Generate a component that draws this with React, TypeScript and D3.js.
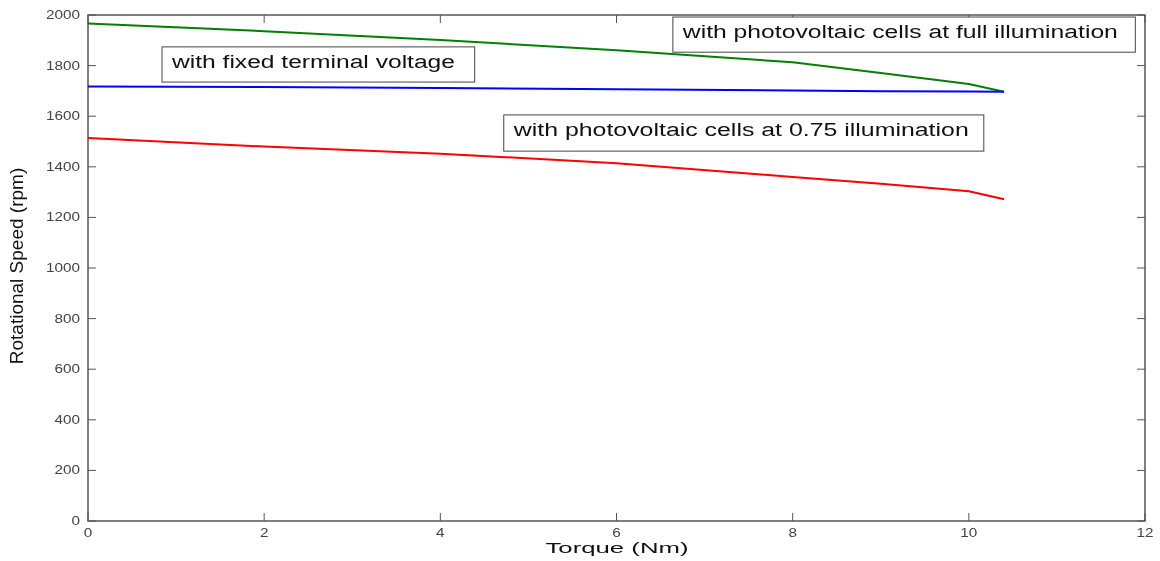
import { useEffect, useRef } from "react";
import * as d3 from "d3";

const torque = [0, 2, 4, 6, 8, 9, 10, 10.4];
const fullIllum = [1966, 1936, 1901, 1861, 1813, 1771, 1727, 1697];
const fixedVolt = [1717, 1715, 1711, 1707, 1702, 1699, 1698, 1697];
const partIllum = [1514, 1480, 1452, 1414, 1360, 1333, 1303, 1272];

const xTicks = [0, 2, 4, 6, 8, 10, 12];
const yTicks = [0, 200, 400, 600, 800, 1000, 1200, 1400, 1600, 1800, 2000];

const seriesColors = ["#008000", "#0000ff", "#ff0000"];

// annotation boxes: [left torque, top rpm, right torque, bottom rpm, label, text length]
const notes: [number, number, number, number, string, number][] = [
  [6.64, 1992, 11.89, 1853, "with photovoltaic cells at full illumination", 435],
  [0.84, 1874, 4.39, 1735, "with fixed terminal voltage", 283],
  [4.72, 1605, 10.17, 1462, "with photovoltaic cells at 0.75 illumination", 455],
];

export default function App() {
  const svgRef = useRef<SVGSVGElement>(null);

  useEffect(() => {
    if (!svgRef.current) return;
    const svg = d3.select(svgRef.current);
    svg.selectAll("*").remove();

    const margin = { top: 15, right: 15, bottom: 40, left: 88 };
    const width = 1160;
    const height = 561;
    const w = width - margin.left - margin.right;
    const h = height - margin.top - margin.bottom;

    const x = d3.scaleLinear().domain([0, 12]).range([0, w]);
    const y = d3.scaleLinear().domain([0, 2000]).range([h, 0]);

    const g = svg
      .append("g")
      .attr("transform", `translate(${margin.left},${margin.top})`);

    const frame = "#555";
    const font = "Arial, 'Liberation Sans', sans-serif";
    const x0 = x(0), x1 = x(12), y0 = y(0), y1 = y(2000);

    g.append("rect")
      .attr("x", x0)
      .attr("y", y1)
      .attr("width", x1 - x0)
      .attr("height", y0 - y1)
      .attr("fill", "#fff")
      .attr("stroke", frame)
      .attr("stroke-width", 1.5);

    // inward ticks on all four sides
    const tl = 8;
    xTicks.forEach((t) => {
      g.append("line").attr("x1", x(t)).attr("x2", x(t)).attr("y1", y0).attr("y2", y0 - tl).attr("stroke", frame);
      g.append("line").attr("x1", x(t)).attr("x2", x(t)).attr("y1", y1).attr("y2", y1 + tl).attr("stroke", frame);
      const s = String(t);
      g.append("text")
        .attr("x", x(t) - (s.length * 8.5) / 2)
        .attr("y", y0 + 15.5)
        .attr("font-family", font)
        .attr("font-size", "12.5px")
        .attr("fill", "#444")
        .attr("textLength", s.length * 8.5)
        .attr("lengthAdjust", "spacingAndGlyphs")
        .text(s);
    });
    yTicks.forEach((t) => {
      g.append("line").attr("x1", x0).attr("x2", x0 + tl).attr("y1", y(t)).attr("y2", y(t)).attr("stroke", frame);
      g.append("line").attr("x1", x1).attr("x2", x1 - tl).attr("y1", y(t)).attr("y2", y(t)).attr("stroke", frame);
      const s = String(t);
      g.append("text")
        .attr("x", x0 - 8 - s.length * 8.5)
        .attr("y", y(t) + 4)
        .attr("font-family", font)
        .attr("font-size", "12.5px")
        .attr("fill", "#444")
        .attr("textLength", s.length * 8.5)
        .attr("lengthAdjust", "spacingAndGlyphs")
        .text(s);
    });

    const line = d3
      .line<number>()
      .x((_, i) => x(torque[i]))
      .y((d) => y(d));

    [fullIllum, fixedVolt, partIllum].forEach((s, i) => {
      g.append("path")
        .datum(s)
        .attr("d", line)
        .attr("fill", "none")
        .attr("stroke", seriesColors[i])
        .attr("stroke-width", 2);
    });

    notes.forEach(([l, t, r, b, label, len]) => {
      g.append("rect")
        .attr("x", x(l))
        .attr("y", y(t))
        .attr("width", x(r) - x(l))
        .attr("height", y(b) - y(t))
        .attr("fill", "#fff")
        .attr("stroke", "#444")
        .attr("stroke-width", 1);
      g.append("text")
        .attr("x", x(l) + 10)
        .attr("y", y(t) + 21)
        .attr("font-family", font)
        .attr("font-size", "18px")
        .attr("fill", "#111")
        .attr("textLength", len)
        .attr("lengthAdjust", "spacingAndGlyphs")
        .text(label);
    });

    g.append("text")
      .attr("x", (x0 + x1) / 2 - 71)
      .attr("y", y0 + 32)
      .attr("font-family", font)
      .attr("font-size", "15.5px")
      .attr("fill", "#111")
      .attr("textLength", 143)
      .attr("lengthAdjust", "spacingAndGlyphs")
      .text("Torque (Nm)");

    g.append("text")
      .attr("transform", `translate(${-65},${(y0 + y1) / 2 - 2}) rotate(-90)`)
      .attr("text-anchor", "middle")
      .attr("font-family", "'Liberation Sans Narrow', 'Arial Narrow', Arial, sans-serif")
      .attr("font-size", "19px")
      .attr("fill", "#111")
      .text("Rotational Speed (rpm)");
  }, []);

  return (
    <div style={{ position: "fixed", left: 0, top: 0 }}>
      <svg ref={svgRef} width={1160} height={561} style={{ display: "block" }} />
    </div>
  );
}
